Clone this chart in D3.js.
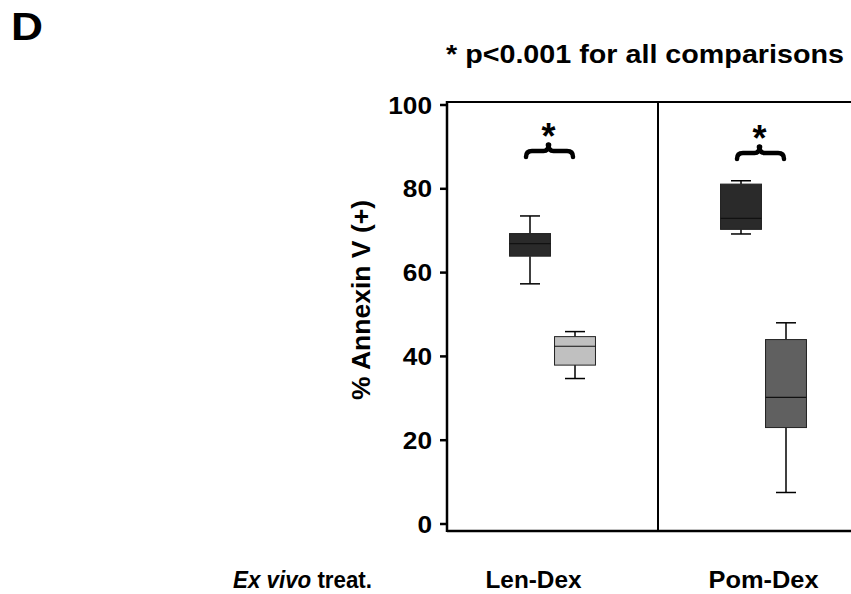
<!DOCTYPE html>
<html>
<head>
<meta charset="utf-8">
<script src="https://cdn.jsdelivr.net/npm/d3@7"></script>
<style>
  html, body { margin: 0; padding: 0; background: #fff; }
  svg { display: block; font-family: "Liberation Sans", Arial, sans-serif; font-weight: bold; }
</style>
</head>
<body>
<svg id="chart" width="851" height="594"></svg>
<script>
// Treatment groups and the two conditions shown inside each group
const groups = ["Len-Dex", "Pom-Dex"];
const conditions = ["first", "second"];

// Box statistics (% Annexin V positive) per group, in condition order
const whiskerLow  = [[57.2, 34.6], [69.1, 7.4]];
const quartile1   = [[63.8, 37.8], [70.2, 22.9]];
const medians     = [[66.8, 42.3], [72.8, 30.1]];
const quartile3   = [[69.2, 44.6], [81.0, 43.9]];
const whiskerHigh = [[73.4, 45.8], [81.8, 47.9]];
const boxFills    = [["#2a2a2a", "#c0c0c0"], ["#2a2a2a", "#606060"]];

// Significance bracket level per group
const bracketLevel = [88.9, 88.4];
const yTicks = [0, 20, 40, 60, 80, 100];
// Horizontal nudge and drawn width of each group label
const labelShift = [-19, 0];
const labelWidth = [96, 110];

const svg = d3.select("#chart");

const y = d3.scaleLinear().domain([0, 100]).range([523.5, 104.5]);
const x = d3.scaleBand().domain(groups).range([447, 869]).paddingInner(0).paddingOuter(0);
const xi = d3.scaleBand().domain(conditions).range([-45, 45]);

const frameTop = 102, frameBottom = 531, frameLeft = 447, frameRight = 851;

// Panel letter
svg.append("text").attr("x", 11).attr("y", 40)
  .attr("font-size", 38).attr("textLength", 32).attr("lengthAdjust", "spacingAndGlyphs")
  .text("D");

// Footnote
svg.append("text").attr("x", 446).attr("y", 63)
  .attr("font-size", 26).attr("textLength", 398).attr("lengthAdjust", "spacingAndGlyphs")
  .text("* p<0.001 for all comparisons");

// Frame lines
svg.append("line").attr("x1", frameLeft).attr("x2", frameRight).attr("y1", frameTop).attr("y2", frameTop)
  .attr("stroke", "#000").attr("stroke-width", 2);
svg.append("line").attr("x1", frameLeft).attr("x2", frameRight).attr("y1", frameBottom).attr("y2", frameBottom)
  .attr("stroke", "#000").attr("stroke-width", 2.5);
svg.append("line").attr("x1", frameLeft).attr("x2", frameLeft).attr("y1", frameTop - 1).attr("y2", frameBottom + 1)
  .attr("stroke", "#000").attr("stroke-width", 2.5);
// Divider between groups
svg.append("line").attr("x1", x("Pom-Dex")).attr("x2", x("Pom-Dex"))
  .attr("y1", frameTop).attr("y2", frameBottom)
  .attr("stroke", "#000").attr("stroke-width", 2);

// Y axis
const yAxis = svg.append("g").attr("transform", `translate(${frameLeft},0)`)
  .call(d3.axisLeft(y).tickValues(yTicks).tickSize(7).tickPadding(8));
yAxis.select(".domain").remove();
yAxis.selectAll(".tick line").attr("stroke", "#000").attr("stroke-width", 2.5);
yAxis.selectAll(".tick text")
  .attr("font-family", "Liberation Sans, Arial, sans-serif")
  .attr("font-weight", "bold").attr("font-size", 24).attr("fill", "#000")
  .attr("dy", "0.36em")
  .attr("textLength", d => String(d).length * 14.6)
  .attr("lengthAdjust", "spacingAndGlyphs");

// Y axis title
svg.append("text")
  .attr("transform", "translate(370,300) rotate(-90)")
  .attr("text-anchor", "middle").attr("font-size", 25)
  .attr("textLength", 200).attr("lengthAdjust", "spacingAndGlyphs")
  .text("% Annexin V (+)");

// Boxes
const boxW = xi.bandwidth() * 0.91;
const capW = 20;
groups.forEach((g, gi) => {
  const cx0 = x(g) + x.bandwidth() / 2;
  const gEl = svg.append("g");
  conditions.forEach((c, ci) => {
    const cx = cx0 + xi(c) + xi.bandwidth() / 2;
    const lo = whiskerLow[gi][ci], q1 = quartile1[gi][ci], md = medians[gi][ci],
          q3 = quartile3[gi][ci], hi = whiskerHigh[gi][ci];
    // whiskers
    gEl.append("line").attr("x1", cx).attr("x2", cx).attr("y1", y(hi)).attr("y2", y(q3))
      .attr("stroke", "#000").attr("stroke-width", 1.5);
    gEl.append("line").attr("x1", cx).attr("x2", cx).attr("y1", y(q1)).attr("y2", y(lo))
      .attr("stroke", "#000").attr("stroke-width", 1.5);
    gEl.append("line").attr("x1", cx - capW / 2).attr("x2", cx + capW / 2).attr("y1", y(hi)).attr("y2", y(hi))
      .attr("stroke", "#000").attr("stroke-width", 1.5);
    gEl.append("line").attr("x1", cx - capW / 2).attr("x2", cx + capW / 2).attr("y1", y(lo)).attr("y2", y(lo))
      .attr("stroke", "#000").attr("stroke-width", 1.5);
    // box
    gEl.append("rect").attr("x", cx - boxW / 2).attr("width", boxW)
      .attr("y", y(q3)).attr("height", y(q1) - y(q3))
      .attr("fill", boxFills[gi][ci]).attr("stroke", "#222").attr("stroke-width", 1);
    // median
    gEl.append("line").attr("x1", cx - boxW / 2).attr("x2", cx + boxW / 2).attr("y1", y(md)).attr("y2", y(md))
      .attr("stroke", "#111").attr("stroke-width", 1.2);
  });

  // Significance brace and asterisk
  const xa = cx0 + xi(conditions[0]) + xi.bandwidth() / 2 - 4;
  const xb = cx0 + xi(conditions[1]) + xi.bandwidth() / 2 - 2;
  const xm = (xa + xb) / 2 - 1;
  const yb = y(bracketLevel[gi]);
  const p = d3.path();
  p.moveTo(xa, yb + 6);
  p.quadraticCurveTo(xa, yb, xa + 6, yb);
  p.lineTo(xm - 5, yb);
  p.quadraticCurveTo(xm, yb, xm, yb - 6);
  p.quadraticCurveTo(xm, yb, xm + 5, yb);
  p.lineTo(xb - 6, yb);
  p.quadraticCurveTo(xb, yb, xb, yb + 6);
  gEl.append("path").attr("d", p.toString()).attr("fill", "none")
    .attr("stroke", "#000").attr("stroke-width", 4.5).attr("stroke-linecap", "round").attr("stroke-linejoin", "round");
  gEl.append("circle").attr("cx", xm).attr("cy", yb - 6).attr("r", 2.8).attr("fill", "#000");
  gEl.append("text").attr("x", xm).attr("y", yb - 2)
    .attr("text-anchor", "middle").attr("font-size", 36).text("*");

  // Group label
  svg.append("text").attr("x", cx0 + labelShift[gi]).attr("y", 588)
    .attr("text-anchor", "middle").attr("font-size", 24)
    .attr("textLength", labelWidth[gi]).attr("lengthAdjust", "spacingAndGlyphs")
    .text(g);
});

// Row label for the treatment axis
const rowLabel = svg.append("text").attr("x", 233).attr("y", 588).attr("font-size", 23)
  .attr("textLength", 139).attr("lengthAdjust", "spacingAndGlyphs");
rowLabel.append("tspan").attr("font-style", "italic").text("Ex vivo");
rowLabel.append("tspan").text(" treat.");
</script>
</body>
</html>
